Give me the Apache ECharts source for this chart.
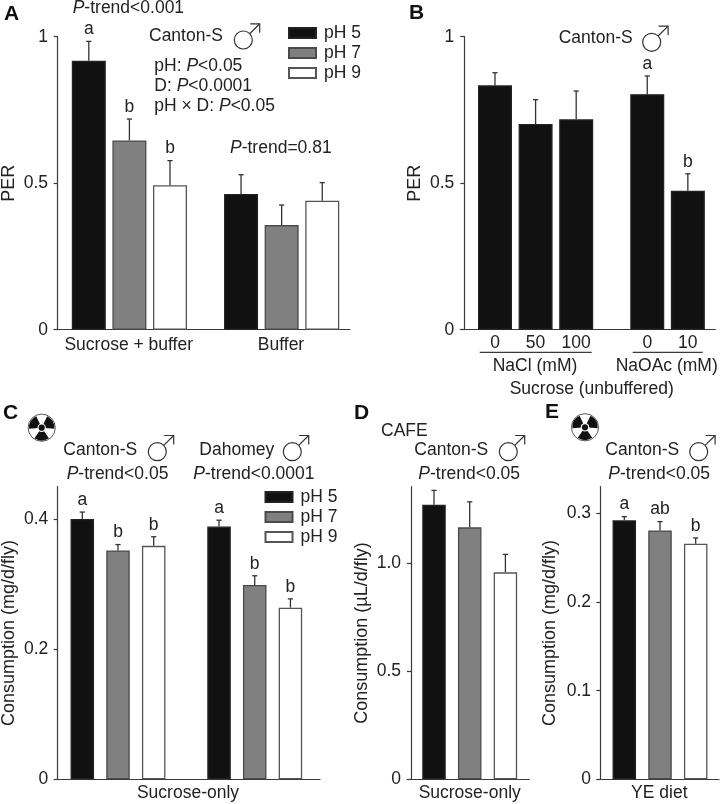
<!DOCTYPE html>
<html><head><meta charset="utf-8">
<style>html,body{margin:0;padding:0;background:#fff}#c{width:722px;height:804px}</style>
<script src="https://cdn.jsdelivr.net/npm/echarts@6/dist/echarts.min.js"></script>
</head><body><div id="c"></div>
<script>
// ---- data ----
const groupsA = ['pH 5','pH 7','pH 9','pH 5','pH 7','pH 9'];
const valuesA = [0.918,0.646,0.493,0.463,0.357,0.440];
const errorsA = [0.984,0.719,0.577,0.529,0.4255,0.502];
const lettersA = ['a','b','b','','',''];
const labelsA = ['Sucrose + buffer','Buffer'];

const groupsB = ['Sucrose','Sucrose','Sucrose','Sucrose','Sucrose'];
const valuesB = [0.834,0.702,0.718,0.804,0.474];
const errorsB = [0.877,0.785,0.8145,0.866,0.532];
const lettersB = ['','','','a','b'];
const labelsB = ['0','50','100','0','10'];

const groupsC = ['pH 5','pH 7','pH 9','pH 5','pH 7','pH 9'];
const valuesC = [0.4005,0.352,0.359,0.3887,0.299,0.264];
const errorsC = [0.411,0.361,0.373,0.3985,0.313,0.2775];
const lettersC = ['a','b','b','a','b','b'];
const labelsC = ['Sucrose-only'];

const groupsD = ['pH 5','pH 7','pH 9'];
const valuesD = [1.27,1.165,0.957];
const errorsD = [1.336,1.283,1.04];
const lettersD = ['','',''];
const labelsD = ['Sucrose-only'];

const groupsE = ['pH 5','pH 7','pH 9'];
const valuesE = [0.2925,0.281,0.266];
const errorsE = [0.2966,0.291,0.2725];
const lettersE = ['a','ab','b'];
const labelsE = ['YE diet'];

const ticksAB = [0,0.5,1];
const tickTextAB = ['0','0.5','1'];
const ticksC = [0,0.2,0.4];
const tickTextC = ['0','0.2','0.4'];
const ticksD = [0,0.5,1.0];
const tickTextD = ['0','0.5','1.0'];
const ticksE = [0,0.1,0.2,0.3];
const tickTextE = ['0','0.1','0.2','0.3'];
const legendNames = ['pH 5','pH 7','pH 9'];

// ---- styles ----
const FONT = '"Liberation Sans", Arial, sans-serif';
const FS = 17.5;
const NAME_FS = 18;
const INK = '#222';
const LINE = '#3a3a3a';
const fills = {
  'pH 5': {color:'#111', borderColor:'#222'},
  'pH 7': {color:'#808080', borderColor:'#4a4a4a'},
  'pH 9': {color:'#fff', borderColor:'#555'},
  'Sucrose': {color:'#111', borderColor:'#222'}
};

// ---- panel layouts ----
const panels = [
 {groups:groupsA,values:valuesA,errors:errorsA,letters:lettersA,left:54,right:350,axisX:57.7,top:36.7,bottom:329.7,max:1,pitch:40.6,first:88.8,gap:0.75,breakAt:3,barW:34,
  ticks:ticksAB,tickText:tickTextAB,name:'PER',nameGap:36,xLabels:labelsA,xLabelAt:[128.7,281],xMargin:6},
 {groups:groupsB,values:valuesB,errors:errorsB,letters:lettersB,left:460.3,right:715.3,axisX:464.3,top:36.7,bottom:329.7,max:1,pitch:40.6,first:495,gap:0.75,breakAt:3,barW:34,
  ticks:ticksAB,tickText:tickTextAB,name:'PER',nameGap:36,xLabels:labelsB,xLabelAt:null,xMargin:4},
 {groups:groupsC,values:valuesC,errors:errorsC,letters:lettersC,left:54.3,right:320,axisX:57.7,top:486.7,bottom:779.3,max:0.45,pitch:35.7,first:82.3,gap:0.83,breakAt:3,barW:23.5,
  ticks:ticksC,tickText:tickTextC,name:'Consumption (mg/d/fly)',nameGap:36,xLabels:labelsC,xLabelAt:[188],xMargin:5},
 {groups:groupsD,values:valuesD,errors:errorsD,letters:lettersD,left:407,right:529.3,axisX:411,top:486.7,bottom:779.3,max:1.353,pitch:35.7,first:434,gap:0,breakAt:9,barW:23.5,
  ticks:ticksD,tickText:tickTextD,name:'Consumption (\u00b5L/d/fly)',nameGap:36,xLabels:labelsD,xLabelAt:[469.7],xMargin:5},
 {groups:groupsE,values:valuesE,errors:errorsE,letters:lettersE,left:597,right:719,axisX:600.3,top:486.7,bottom:779.3,max:0.3304,pitch:35.7,first:624.3,gap:0,breakAt:9,barW:23.5,
  ticks:ticksE,tickText:tickTextE,name:'Consumption (mg/d/fly)',nameGap:38,xLabels:labelsE,xLabelAt:[659.3],xMargin:5}
];

const grid=[],xAxis=[],yAxis=[],series=[];
panels.forEach((p,k)=>{
  const toSlot = px => (px-p.axisX)/p.pitch;
  const start = toSlot(p.first);
  const xs = p.values.map((_,i)=> start + i + (i>=p.breakAt ? p.gap : 0));
  grid.push({left:p.left,top:p.top,width:p.right-p.left,height:p.bottom-p.top,containLabel:false,outerBoundsMode:'none'});
  const labelAt = p.xLabelAt ? p.xLabelAt.map(toSlot) : xs;
  xAxis.push({gridIndex:k,type:'value',min:toSlot(p.left),max:toSlot(p.right),splitLine:{show:false},
    axisLine:{show:true,onZero:true,lineStyle:{color:LINE,width:1.2}},axisTick:{show:false},
    axisLabel:{show:true,customValues:labelAt,margin:p.xMargin,color:INK,fontFamily:FONT,fontSize:FS,
      hideOverlap:false,showMinLabel:true,showMaxLabel:true,
      formatter:v=>{let b=0;labelAt.forEach((a,i)=>{if(Math.abs(a-v)<Math.abs(labelAt[b]-v))b=i;});return p.xLabels[b];}}});
  yAxis.push({gridIndex:k,type:'value',min:0,max:p.max,splitLine:{show:false},
    name:p.name,nameLocation:'middle',nameRotate:90,nameGap:p.nameGap,nameTextStyle:{color:INK,fontFamily:FONT,fontSize:NAME_FS},
    axisLine:{show:true,onZero:true,lineStyle:{color:LINE,width:1.2}},
    axisTick:{show:true,length:4,customValues:p.ticks,lineStyle:{color:LINE,width:1.2}},
    axisLabel:{show:true,customValues:p.ticks,margin:6,color:INK,fontFamily:FONT,fontSize:FS,
      formatter:v=>{let b=0;p.ticks.forEach((a,i)=>{if(Math.abs(a-v)<Math.abs(p.ticks[b]-v))b=i;});return p.tickText[b];}}});
  [...new Set(p.groups)].forEach(g=>{
    series.push({type:'bar',name:g,xAxisIndex:k,yAxisIndex:k,barWidth:p.barW,barGap:'-100%',
      itemStyle:{color:fills[g].color,borderColor:fills[g].borderColor,borderWidth:1.3},
      data:p.values.map((v,i)=>[xs[i],v,p.groups[i]]).filter(d=>d[2]===g).map(d=>[d[0],d[1]])});
  });
  series.push({type:'custom',name:'error'+k,xAxisIndex:k,yAxisIndex:k,clip:false,z:5,silent:true,
    encode:{x:0,y:1},
    data:p.errors.map((e,i)=>[xs[i],e]),
    renderItem:(params,api)=>{
      const i=params.dataIndex;
      const top=api.coord([api.value(0),api.value(1)]);
      const base=api.coord([api.value(0),p.values[i]]);
      const ls={stroke:'#333',lineWidth:1.3};
      const kids=[
        {type:'line',shape:{x1:top[0],y1:top[1],x2:base[0],y2:base[1]},style:ls},
        {type:'line',shape:{x1:top[0]-2.6,y1:top[1],x2:top[0]+2.6,y2:top[1]},style:ls}];
      if(p.letters[i]) kids.push({type:'text',style:{x:top[0],y:top[1]-12,text:p.letters[i],fill:INK,
        font:FS+'px '+FONT,align:'center',verticalAlign:'middle'}});
      return {type:'group',children:kids};
    }});
});

// ---- annotations ----
const g=[];
const rich={i:{fontStyle:'italic',fontFamily:FONT,fontSize:FS,fill:INK},n:{fontFamily:FONT,fontSize:FS,fill:INK}};
function txt(x,y,text,opt){opt=opt||{};
  g.push({type:'text',x:x,y:y,silent:true,style:Object.assign({text:text,fill:INK,fontFamily:FONT,fontSize:FS,align:'left',verticalAlign:'middle',rich:rich},opt)});}
function ptxt(x,y,pre,post,opt){ txt(x,y,(pre?'{n|'+pre+'}':'')+'{i|P}{n|'+post+'}',opt); }
function head(x,y,t){ txt(x,y,t,{fontWeight:'bold',fontSize:21,fill:'#111'}); }
function male(cx,cy){
  const s={stroke:'#333',lineWidth:1.2,fill:'none'};
  g.push({type:'circle',silent:true,shape:{cx:cx,cy:cy,r:9},style:{stroke:'#333',lineWidth:1.2,fill:'transparent'}});
  const hx=cx+16.4,hy=cy-16.2;
  g.push({type:'line',silent:true,shape:{x1:cx+6.4,y1:cy-6.3,x2:hx,y2:hy},style:s});
  g.push({type:'polyline',silent:true,shape:{points:[[hx-9.5,hy],[hx,hy],[hx,hy+9]]},style:s});
}
function rad(cx,cy){
  g.push({type:'circle',silent:true,shape:{cx:cx,cy:cy,r:13.6},style:{fill:'#fff',stroke:'#555',lineWidth:1}});
  [[90],[210],[330]].forEach(a=>{
    const c=a[0]*Math.PI/180,h=Math.PI/6+0.08;
    g.push({type:'sector',silent:true,shape:{cx:cx,cy:cy,r0:0,r:12.7,startAngle:c-h,endAngle:c+h,clockwise:true},style:{fill:'#111'}});
  });
  g.push({type:'circle',silent:true,shape:{cx:cx,cy:cy,r:4.2},style:{fill:'#fff'}});
  g.push({type:'circle',silent:true,shape:{cx:cx,cy:cy,r:3.1},style:{fill:'#111'}});
}
function rule(x1,x2,y){ g.push({type:'line',silent:true,shape:{x1:x1,y1:y,x2:x2,y2:y},style:{stroke:LINE,lineWidth:1.2}}); }

head(4,14,'A'); head(409,13,'B'); head(3,413,'C'); head(354,413,'D'); head(545,412,'E');
// A
ptxt(72.7,8.5,'','-trend<0.001'); txt(149,36,'Canton-S'); male(243.3,40);
ptxt(154.3,66,'pH: ','<0.05'); ptxt(154.3,86,'D: ','<0.0001'); ptxt(154.3,106,'pH \u00d7 D: ','<0.05');
ptxt(230,148.5,'','-trend=0.81');
// B
txt(558.7,38.5,'Canton-S'); male(651.7,42.3);
rule(479.7,591.7,352.3); rule(632.7,702.7,352.3);
txt(535,366,'NaCl (mM)',{align:'center'}); txt(666.7,366,'NaOAc (mM)',{align:'center'});
txt(591.7,389,'Sucrose (unbuffered)',{align:'center'});
// C
rad(41.7,427.7);
txt(63.3,450,'Canton-S'); male(157.3,451.7); ptxt(66.7,474,'','-trend<0.05');
txt(199.3,450,'Dahomey'); male(292.3,451.7); ptxt(193.3,474,'','-trend<0.0001');
// D
txt(381,431,'CAFE'); txt(414.3,450,'Canton-S'); male(508.3,451.7); ptxt(418.3,474,'','-trend<0.05');
// E
rad(585,427.3);
txt(605.3,450,'Canton-S'); male(698.7,451.7); ptxt(608.3,474,'','-trend<0.05');

const legendBase={orient:'vertical',data:legendNames,itemWidth:27,itemHeight:10,itemGap:2,selectedMode:false,padding:0,
  textStyle:{color:INK,fontFamily:FONT,fontSize:FS,padding:[0,0,0,3]},icon:'rect'};

const chart=echarts.init(document.getElementById('c'),null,{renderer:'canvas'});
chart.setOption({animation:false,backgroundColor:'#fff',textStyle:{fontFamily:FONT},
  tooltip:{show:false},grid,xAxis,yAxis,series,
  legend:[Object.assign({},legendBase,{left:288,top:24}),Object.assign({},legendBase,{left:264.5,top:488})],
  graphic:{elements:g}});
</script></body></html>
